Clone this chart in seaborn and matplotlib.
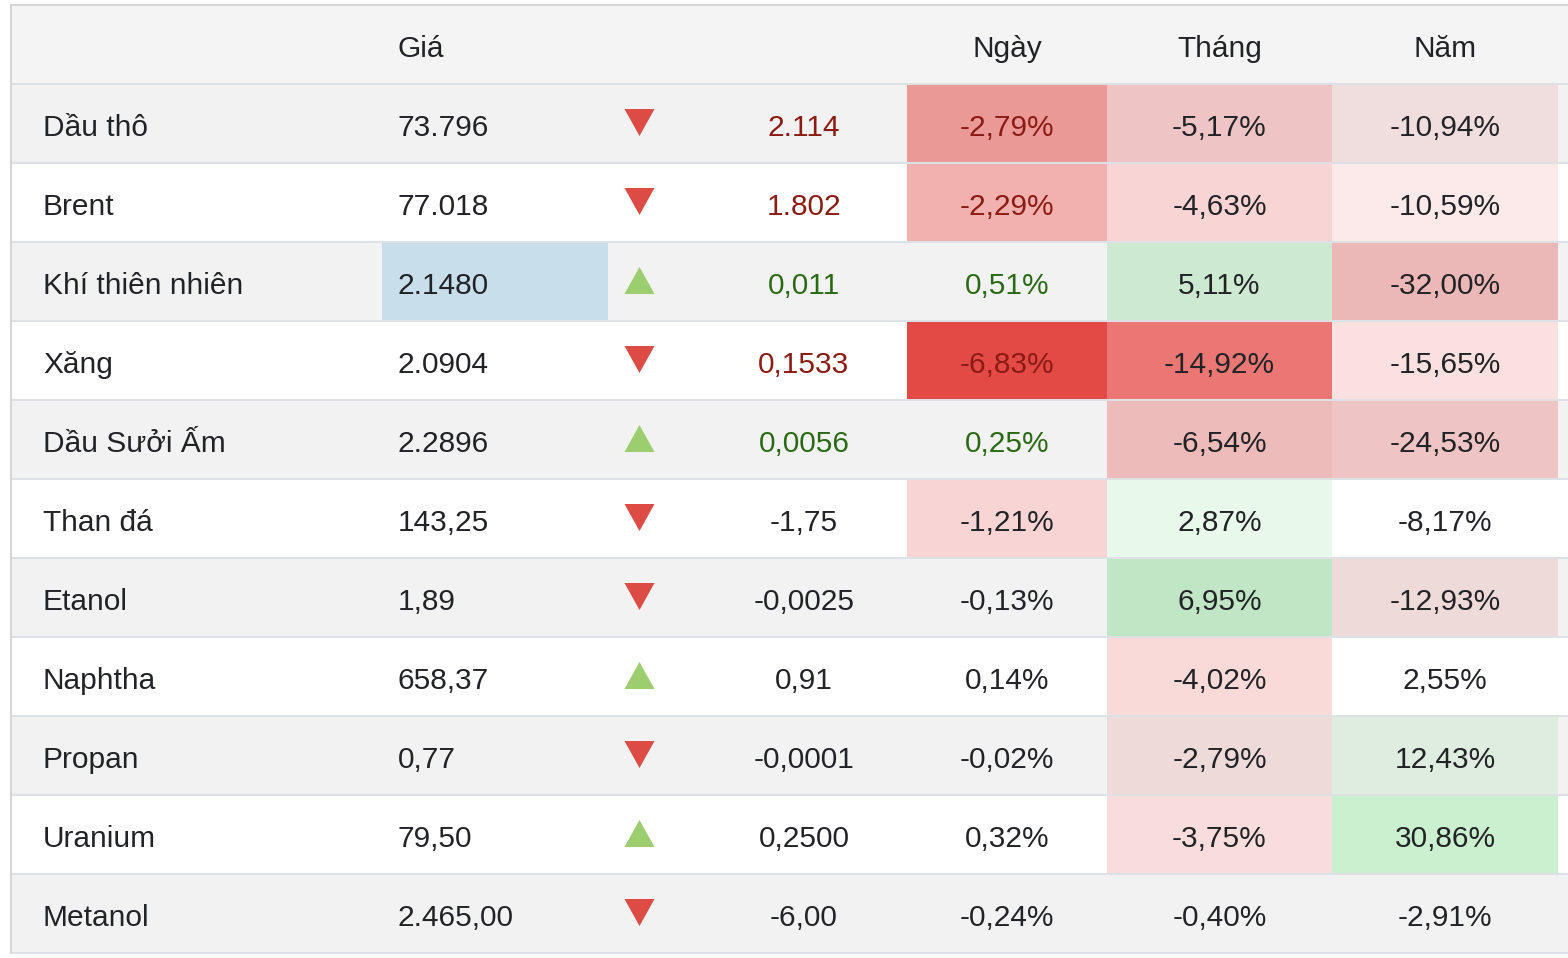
import matplotlib
matplotlib.use("Agg")
import matplotlib.pyplot as plt
from matplotlib.colors import LinearSegmentedColormap, to_rgb
import seaborn as sns
import pandas as pd
import numpy as np

# dữ liệu bảng năng lượng
names = ["Dầu thô", "Brent", "Khí thiên nhiên", "Xăng", "Dầu Sưởi Ấm", "Than đá",
         "Etanol", "Naphtha", "Propan", "Uranium", "Metanol"]
prices = ["73.796", "77.018", "2.1480", "2.0904", "2.2896", "143,25",
          "1,89", "658,37", "0,77", "79,50", "2.465,00"]
changes = ["2.114", "1.802", "0,011", "0,1533", "0,0056", "-1,75",
           "-0,0025", "0,91", "-0,0001", "0,2500", "-6,00"]
day_pct = [-2.79, -2.29, 0.51, -6.83, 0.25, -1.21, -0.13, 0.14, -0.02, 0.32, -0.24]
month_pct = [-5.17, -4.63, 5.11, -14.92, -6.54, 2.87, 6.95, -4.02, -2.79, -3.75, -0.40]
year_pct = [-10.94, -10.59, -32.00, -15.65, -24.53, -8.17, -12.93, 2.55, 12.43, 30.86, -2.91]
live = [True, True, True, True, True, False, False, False, False, False, False]
flash_row = 2  # ô giá vừa cập nhật
headers = ["Ngày", "Tháng", "Năm"]

df = pd.DataFrame({"Ngày": day_pct, "Tháng": month_pct, "Năm": year_pct}, index=names)

sns.set_theme(style="white")
plt.rcParams['font.family'] = ['Liberation Sans', 'DejaVu Sans']

W, H = 1568, 958
TOP, ROW_H = 5, 79
LEFT = 11
FS = 21.5
DARK = "#222326"
RED_TXT = "#8b1c14"
GREEN_TXT = "#2b6a15"
SEP = "#dde0e4"

n = len(names)
row_top = [TOP + ROW_H * (i + 1) for i in range(n)]
row_mid = [t + ROW_H / 2 for t in row_top]
base = [t + 52 for t in row_top]

fig = plt.figure(figsize=(W / 100, H / 100), dpi=100)
fig.patch.set_facecolor("white")

# nền sọc
bg = fig.add_axes([0, 0, 1, 1], zorder=0)
bg.set_xlim(0, W)
bg.set_ylim(H, 0)
bg.axis("off")
bg.barh(TOP + ROW_H / 2, W - LEFT, height=ROW_H, left=LEFT, color="#f4f4f4", linewidth=0)
bg.barh(row_mid, W - LEFT, height=ROW_H, left=LEFT,
        color=["#f2f2f2" if i % 2 == 0 else "white" for i in range(n)], linewidth=0)

# ô màu phần trăm
red = to_rgb("#e34a45")
green = to_rgb("#64d271")
cmap = LinearSegmentedColormap.from_list(
    "chg", [(0, (*red, 1)), (0.499, (*red, 0)), (0.501, (*green, 0)), (1, (*green, 1))])
col_edges = {"Ngày": (907, 1107), "Tháng": (1107, 1332), "Năm": (1332, 1558)}
col_scale = {"Ngày": 5.3, "Tháng": 20, "Năm": 94}
col_thr = {"Ngày": 1.0, "Tháng": 1.0, "Năm": 9.0}
y_bottom = row_top[-1] + ROW_H
for col in headers:
    x0, x1 = col_edges[col]
    hax = fig.add_axes([x0 / W, (H - y_bottom) / H, (x1 - x0) / W, (y_bottom - row_top[0]) / H],
                       zorder=1)
    sub = df[[col]]
    sns.heatmap(sub, ax=hax, cmap=cmap, vmin=-col_scale[col], vmax=col_scale[col],
                mask=sub.abs() < col_thr[col], cbar=False,
                xticklabels=False, yticklabels=False, linewidths=0)
    hax.axis("off")

# lớp trên: đường kẻ, chữ, mũi tên
ax = fig.add_axes([0, 0, 1, 1], zorder=2)
ax.set_xlim(0, W)
ax.set_ylim(H, 0)
ax.axis("off")

ax.barh(row_mid[flash_row], 226, height=ROW_H, left=382, color="#c8deea", linewidth=0, zorder=1)

lw = 2 * 72 / 100
ax.plot([LEFT, W], [TOP, TOP], color="#d6d6d6", lw=lw, zorder=3)
for t in row_top + [y_bottom]:
    ax.plot([LEFT, W], [t, t], color=SEP, lw=lw, zorder=3)
ax.plot([LEFT, LEFT], [TOP, y_bottom], color="#d6d6d6", lw=lw, zorder=3)

ax.text(398, TOP + 52, "Giá", fontsize=FS, color=DARK, ha="left", va="baseline")
centers = {"Ngày": 1007, "Tháng": 1219.5, "Năm": 1445}
for col in headers:
    ax.text(centers[col], TOP + 52, col, fontsize=FS, color=DARK, ha="center", va="baseline")

def fmt(v):
    return f"{v:.2f}".replace(".", ",") + "%"

down = [(-1, 0.9), (1, 0.9), (0, -0.9)]
up = [(-1, -0.9), (1, -0.9), (0, 0.9)]
for i in range(n):
    ax.text(43, base[i], names[i], fontsize=FS, color=DARK, ha="left", va="baseline")
    ax.text(398, base[i], prices[i], fontsize=FS, color=DARK, ha="left", va="baseline")
    neg = day_pct[i] < 0
    hl = (RED_TXT if neg else GREEN_TXT) if live[i] else DARK
    ax.scatter([639], [row_mid[i] - 2], marker=down if neg else up, s=21.6 ** 2,
               color="#dd4b45" if neg else "#9ccd6e", linewidths=0, zorder=4)
    ax.text(804, base[i], changes[i], fontsize=FS, color=hl, ha="center", va="baseline")
    ax.text(centers["Ngày"], base[i], fmt(day_pct[i]), fontsize=FS, color=hl,
            ha="center", va="baseline")
    ax.text(centers["Tháng"], base[i], fmt(month_pct[i]), fontsize=FS, color=DARK,
            ha="center", va="baseline")
    ax.text(centers["Năm"], base[i], fmt(year_pct[i]), fontsize=FS, color=DARK,
            ha="center", va="baseline")

plt.savefig("out.png", dpi=100)
